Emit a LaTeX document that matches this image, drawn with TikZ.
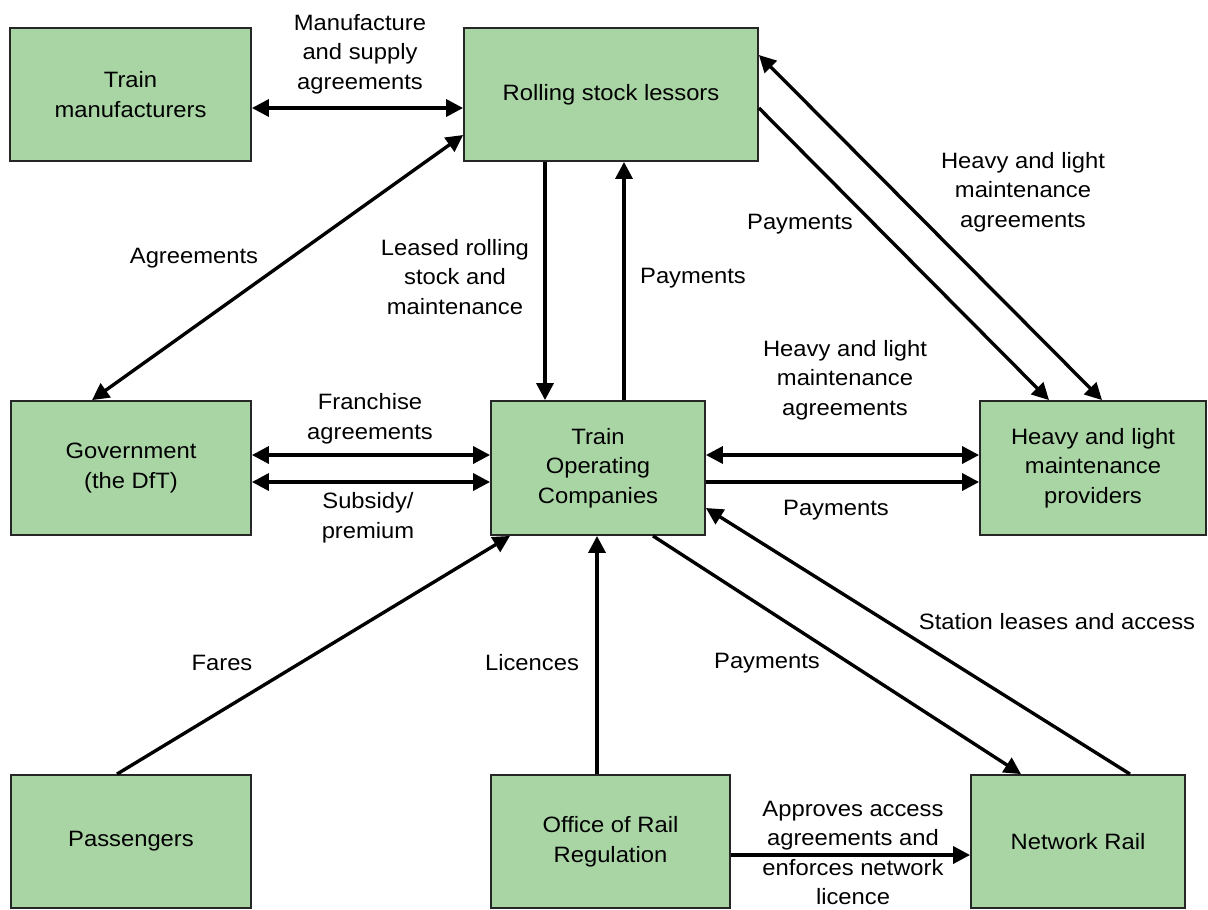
\documentclass[tikz,border=0pt]{standalone}
\usepackage{fontspec}
\setmainfont{Liberation Sans}[FakeStretch=1.07]
\usetikzlibrary{calc,arrows.meta}
\definecolor{boxgreen}{RGB}{169,213,165}
\begin{document}
\begin{tikzpicture}[x=0.025cm,y=-0.025cm,
  font=\fontsize{15.8}{21}\selectfont,
  >={Triangle[length=12pt,width=12pt]},
  box/.style n args={2}{draw=black!85,line width=1.3pt,fill=boxgreen,align=center,
     minimum width=#1*0.025cm,minimum height=#2*0.025cm,inner sep=0pt},
  conn/.style={line width=2.4pt},
  lbl/.style={align=center,inner sep=0pt}]
\useasboundingbox (0,0) rectangle (1208,909);
% boxes
\node[box={241}{133}] (tm)  at (130.5,94.5) {Train\\manufacturers};
\node[box={294}{133}] (rsl) at (611,94.5) {Rolling stock lessors};
\node[box={240}{134}] (gov) at (131,468) {Government\\(the DfT)};
\node[box={214}{134}] (toc) at (598,468) {Train\\Operating\\Companies};
\node[box={226}{134}] (hlm) at (1093,468) {Heavy and light\\maintenance\\providers};
\node[box={240}{133}] (pas) at (131,841.5) {Passengers};
\node[box={239}{133}] (orr) at (610.5,841.5) {Office of Rail\\Regulation};
\node[box={214}{133}] (nr)  at (1078,841.5) {Network Rail};
% connectors
\draw[conn,<->] ($(tm.east)+(0,13.5)$) -- ($(rsl.west)+(0,13.5)$);
\draw[conn,<->] ($(rsl.west)+(0,40.5)$) -- ($(gov.north)+(-39,0)$);
\coordinate (dnx) at ($(toc.north)+(-53,0)$);
\draw[conn,->] (dnx |- rsl.south) -- (dnx);
\coordinate (upx) at ($(toc.north)+(26,0)$);
\draw[conn,->] (upx) -- (upx |- rsl.south);
\draw[conn,->] ($(rsl.east)+(0,13.5)$) -- ($(hlm.north)+(-44,0)$);
\draw[conn,<->] ($(hlm.north)+(9,0)$) -- ($(rsl.east)+(0,-39.5)$);
\draw[conn,<->] ($(gov.east)+(0,-13)$) -- ($(toc.west)+(0,-13)$);
\draw[conn,<->] ($(gov.east)+(0,14)$) -- ($(toc.west)+(0,14)$);
\draw[conn,<->] ($(toc.east)+(0,-13)$) -- ($(hlm.west)+(0,-13)$);
\draw[conn,->] ($(toc.east)+(0,14)$) -- ($(hlm.west)+(0,14)$);
\draw[conn,->] ($(pas.north)+(-14,0)$) -- ($(toc.south)+(-88,0)$);
\coordinate (licx) at ($(orr.north)+(-13.5,0)$);
\draw[conn,->] (licx) -- (licx |- toc.south);
\draw[conn,->] ($(toc.south)+(55,0)$) -- ($(nr.north)+(-57,0)$);
\draw[conn,->] ($(nr.north)+(52,0)$) -- ($(toc.east)+(0,40)$);
\draw[conn,->] ($(orr.east)+(0,13.5)$) -- ($(nr.west)+(0,13.5)$);
% labels
\node[lbl] (l1)  at (360,54) {Manufacture\\and supply\\agreements};
\node[lbl] (l2)  at (194,258) {Agreements};
\node[lbl] (l3)  at (455,277) {Leased rolling\\stock and\\maintenance};
\node[lbl] (l4)  at (693,278) {Payments};
\node[lbl] (l5)  at (800,224) {Payments};
\node[lbl] (l6)  at (1023,192) {Heavy and light\\maintenance\\agreements};
\node[lbl] (l7)  at (845,380) {Heavy and light\\maintenance\\agreements};
\node[lbl] (l8)  at (370,419) {Franchise\\agreements};
\node[lbl] (l9)  at (368,518) {Subsidy/\\premium};
\node[lbl] (l10) at (836,510) {Payments};
\node[lbl] (l11) at (222,663) {Fares};
\node[lbl] (l12) at (532,663) {Licences};
\node[lbl] (l13) at (767,663) {Payments};
\node[lbl] (l14) at (1057,622) {Station leases and access};
\node[lbl] (l15) at (853,853) {Approves access\\agreements and\\enforces network\\licence};
\end{tikzpicture}
\end{document}
